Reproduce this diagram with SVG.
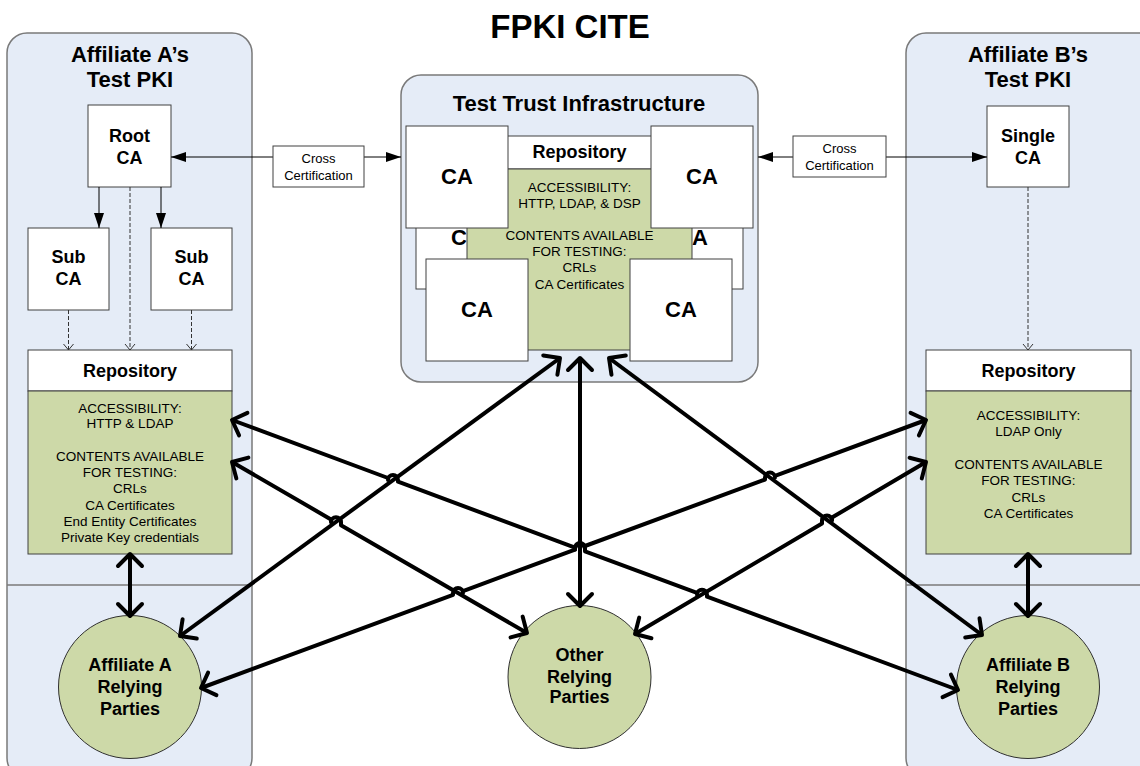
<svg xmlns="http://www.w3.org/2000/svg" width="1140" height="766" viewBox="0 0 1140 766">
<style>
text{font-family:"Liberation Sans",Arial,sans-serif;fill:#000;text-anchor:middle}
.t1{font-size:33px;font-weight:bold}
.t2{font-size:22px;font-weight:bold}
.tb{font-size:18px;font-weight:bold}
.tca{font-size:22px;font-weight:bold}
.ts{font-size:13.5px}
.tx{font-size:13px}
.panel{fill:#e5ecf7;stroke:#7a7a7a;stroke-width:1.5}
.box{fill:#fff;stroke:#404040;stroke-width:1}
.green{fill:#cdd9a8;stroke:#404040;stroke-width:1}
.circ{fill:#cdd9a8;stroke:#303030;stroke-width:1}
.div{stroke:#7a7a7a;stroke-width:1.5;fill:none}
.thin{stroke:#000;stroke-width:1;fill:none}
.dash{stroke:#333;stroke-width:1;fill:none;stroke-dasharray:4 2}
.thick{stroke:#000;stroke-width:4;fill:none;stroke-linejoin:round}
</style>
<defs>
<marker id="tri" viewBox="0 0 15 10" refX="15" refY="5" markerWidth="15" markerHeight="10" orient="auto-start-reverse" markerUnits="userSpaceOnUse"><path d="M0,0 L15,5 L0,10 z" fill="#000"/></marker>
<marker id="vee" viewBox="-8 -6 9 12" refX="0" refY="0" markerWidth="9" markerHeight="12" orient="auto" markerUnits="userSpaceOnUse"><path d="M-6,-5 L0,0 L-6,5" fill="none" stroke="#333" stroke-width="1"/></marker>
<marker id="chev" viewBox="-16 -16 20 32" refX="0" refY="0" markerWidth="20" markerHeight="32" orient="auto-start-reverse" markerUnits="userSpaceOnUse"><path d="M-12,-12 L0,0 L-12,12" fill="none" stroke="#000" stroke-width="4" stroke-linejoin="round" stroke-linecap="round"/></marker>
</defs>
<rect width="1140" height="766" fill="#fff"/>
<text class="t1" x="570" y="38">FPKI CITE</text>

<g id="panel-a">
<rect class="panel" x="7" y="33" width="245" height="745" rx="20"/>
<line class="div" x1="7" y1="585" x2="252" y2="585"/>
<text class="t2" x="130" y="62">Affiliate A’s</text>
<text class="t2" x="130" y="87">Test PKI</text>
</g>
<g id="panel-b">
<rect class="panel" x="906" y="33" width="260" height="745" rx="20"/>
<line class="div" x1="906" y1="585" x2="1140" y2="585"/>
<text class="t2" x="1028" y="62">Affiliate B’s</text>
<text class="t2" x="1028" y="87">Test PKI</text>
</g>
<g id="panel-center">
<rect class="panel" x="401" y="75" width="357" height="307" rx="20"/>
<text class="t2" x="579" y="111">Test Trust Infrastructure</text>
</g>

<g id="root-ca"><rect class="box" x="88" y="105" width="83" height="82"/><text class="tb" x="129.5" y="142">Root</text><text class="tb" x="129.5" y="164">CA</text></g>
<g id="sub-ca-1"><rect class="box" x="28" y="228" width="81" height="82"/><text class="tb" x="68.5" y="263">Sub</text><text class="tb" x="68.5" y="285">CA</text></g>
<g id="sub-ca-2"><rect class="box" x="151" y="228" width="81" height="82"/><text class="tb" x="191.5" y="263">Sub</text><text class="tb" x="191.5" y="285">CA</text></g>
<g id="repo-a">
<rect class="box" x="28" y="350" width="204" height="41"/>
<rect class="green" x="28" y="391" width="204" height="163"/>
<text class="tb" x="130" y="376.5">Repository</text>
<text class="ts" x="130" y="412.5">ACCESSIBILITY:</text>
<text class="ts" x="130" y="428">HTTP &amp; LDAP</text>
<text class="ts" x="130" y="461">CONTENTS AVAILABLE</text>
<text class="ts" x="130" y="477">FOR TESTING:</text>
<text class="ts" x="130" y="493">CRLs</text>
<text class="ts" x="130" y="509.5">CA Certificates</text>
<text class="ts" x="130" y="526">End Entity Certificates</text>
<text class="ts" x="130" y="542">Private Key credentials</text>
</g>
<g id="rp-a"><circle class="circ" cx="130" cy="687" r="71.5"/><text class="tb" x="130" y="671">Affiliate A</text><text class="tb" x="130" y="693">Relying</text><text class="tb" x="130" y="714.5">Parties</text></g>

<g id="single-ca"><rect class="box" x="987" y="106" width="82" height="81"/><text class="tb" x="1028" y="142">Single</text><text class="tb" x="1028" y="164">CA</text></g>
<g id="repo-b">
<rect class="box" x="926" y="350" width="205" height="41"/>
<rect class="green" x="926" y="391" width="205" height="163"/>
<text class="tb" x="1028.5" y="376.5">Repository</text>
<text class="ts" x="1028.5" y="419.7">ACCESSIBILITY:</text>
<text class="ts" x="1028.5" y="436">LDAP Only</text>
<text class="ts" x="1028.5" y="468.7">CONTENTS AVAILABLE</text>
<text class="ts" x="1028.5" y="485">FOR TESTING:</text>
<text class="ts" x="1028.5" y="501.5">CRLs</text>
<text class="ts" x="1028.5" y="518">CA Certificates</text>
</g>
<g id="rp-b"><circle class="circ" cx="1028" cy="687" r="71.5"/><text class="tb" x="1028" y="671">Affiliate B</text><text class="tb" x="1028" y="693">Relying</text><text class="tb" x="1028" y="714.5">Parties</text></g>

<g id="ca-back-left"><rect class="box" x="416" y="187" width="102" height="102"/><text class="tca" x="467" y="245">CA</text></g>
<g id="ca-back-right"><rect class="box" x="641" y="187" width="102" height="102"/><text class="tca" x="692" y="245">CA</text></g>
<g id="repo-center">
<rect class="box" x="467" y="136" width="225" height="33"/>
<rect class="green" x="467" y="169" width="225" height="181"/>
<text class="tb" x="579.5" y="158">Repository</text>
<text class="ts" x="579.5" y="192">ACCESSIBILITY:</text>
<text class="ts" x="579.5" y="208">HTTP, LDAP, &amp; DSP</text>
<text class="ts" x="579.5" y="240">CONTENTS AVAILABLE</text>
<text class="ts" x="579.5" y="256">FOR TESTING:</text>
<text class="ts" x="579.5" y="272">CRLs</text>
<text class="ts" x="579.5" y="288.5">CA Certificates</text>
</g>
<g id="ca-top-left"><rect class="box" x="406" y="126" width="102" height="102"/><text class="tca" x="457" y="184">CA</text></g>
<g id="ca-top-right"><rect class="box" x="651" y="126" width="102" height="102"/><text class="tca" x="702" y="184">CA</text></g>
<g id="ca-bottom-left"><rect class="box" x="426" y="259" width="102" height="102"/><text class="tca" x="477" y="317">CA</text></g>
<g id="ca-bottom-right"><rect class="box" x="630" y="259" width="102" height="102"/><text class="tca" x="681" y="317">CA</text></g>

<g id="rp-other"><circle class="circ" cx="579.5" cy="677" r="71.5"/><text class="tb" x="579.5" y="661">Other</text><text class="tb" x="579.5" y="683">Relying</text><text class="tb" x="579.5" y="703">Parties</text></g>

<g id="connectors">
<line class="thin" x1="99" y1="187" x2="99" y2="228" marker-end="url(#tri)"/>
<line class="thin" x1="161" y1="187" x2="161" y2="228" marker-end="url(#tri)"/>
<line class="dash" x1="130" y1="187" x2="130" y2="350" marker-end="url(#vee)"/>
<line class="dash" x1="68.5" y1="310" x2="68.5" y2="350" marker-end="url(#vee)"/>
<line class="dash" x1="191.5" y1="310" x2="191.5" y2="350" marker-end="url(#vee)"/>
<line class="dash" x1="1028" y1="187" x2="1028" y2="350" marker-end="url(#vee)"/>
<line class="thin" x1="273" y1="157" x2="171" y2="157" marker-end="url(#tri)"/>
<line class="thin" x1="364" y1="157" x2="401" y2="157" marker-end="url(#tri)"/>
<line class="thin" x1="793" y1="157" x2="758" y2="157" marker-end="url(#tri)"/>
<line class="thin" x1="886" y1="157" x2="987" y2="157" marker-end="url(#tri)"/>
<path class="thick" d="M130,554 L130,616" marker-start="url(#chev)" marker-end="url(#chev)"/>
<path class="thick" d="M1028,554 L1028,616" marker-start="url(#chev)" marker-end="url(#chev)"/>
<path class="thick" d="M580,358 L580,606" marker-start="url(#chev)" marker-end="url(#chev)"/>
<path class="thick" d="M180,636 L560,358" marker-start="url(#chev)" marker-end="url(#chev)"/>
<path class="thick" d="M609,358 L982,635" marker-start="url(#chev)" marker-end="url(#chev)"/>
<path class="thick" d="M232,420 L388,478 L388,479.9 A5,5 0 0 1 398,479.9 L398,481.7 L575,547.6 L575,549.4 A5,5 0 0 1 585,549.4 L585,551.3 L697,592.9 L697,594.8 A5,5 0 0 1 707,594.8 L707,596.7 L958,690" marker-start="url(#chev)" marker-end="url(#chev)"/>
<path class="thick" d="M232,462 L331,519.4 L331,522.3 A5,5 0 0 1 341,522.3 L341,525.2 L527,633" marker-start="url(#chev)" marker-end="url(#chev)"/>
<path class="thick" d="M201,688 L453,594.8 L453,593 A5,5 0 0 1 463,593 L463,591.1 L575,549.7 L575,547.9 A5,5 0 0 1 585,547.9 L585,546 L765,479.5 L765,477.6 A5,5 0 0 1 775,477.6 L775,475.8 L926,420" marker-start="url(#chev)" marker-end="url(#chev)"/>
<path class="thick" d="M635,634 L822,523.5 L822,520.5 A5,5 0 0 1 832,520.5 L832,517.5 L926,462" marker-start="url(#chev)" marker-end="url(#chev)"/>
</g>

<g id="cross-cert-1"><rect class="box" x="273" y="146" width="91" height="41"/><text class="tx" x="318.5" y="163">Cross</text><text class="tx" x="318.5" y="180">Certification</text></g>
<g id="cross-cert-2"><rect class="box" x="793" y="136" width="93" height="41"/><text class="tx" x="839.5" y="153">Cross</text><text class="tx" x="839.5" y="170">Certification</text></g>
</svg>
